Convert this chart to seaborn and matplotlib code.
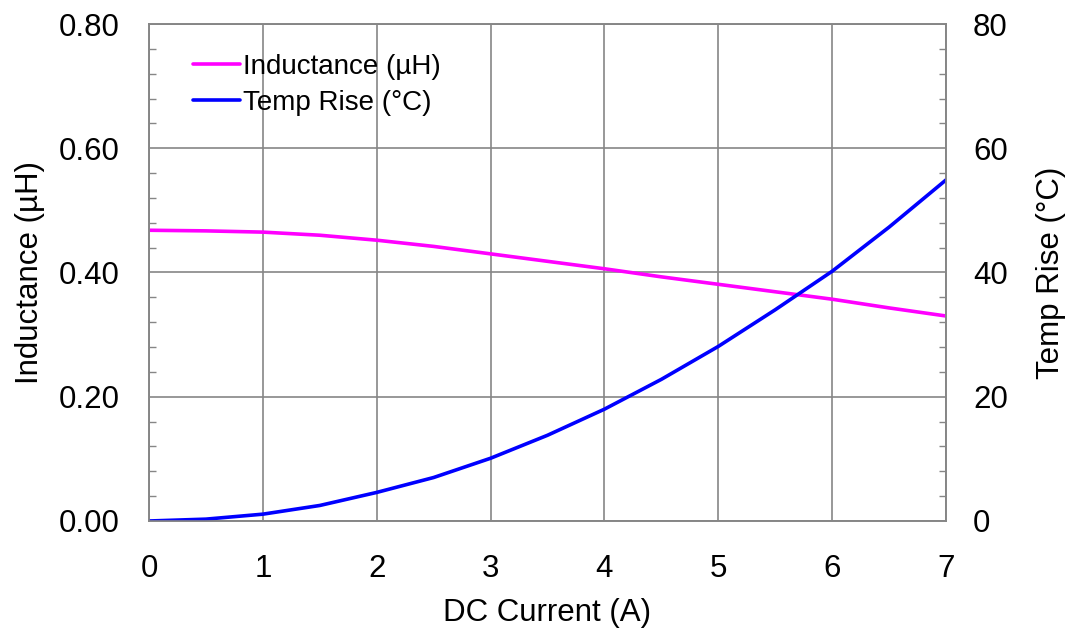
import matplotlib
matplotlib.use("Agg")
import matplotlib.pyplot as plt
import seaborn as sns
import pandas as pd
from matplotlib.ticker import MultipleLocator, FormatStrFormatter

current = [0, 0.5, 1, 1.5, 2, 2.5, 3, 3.5, 4, 4.5, 5, 5.5, 6, 6.5, 7]
inductance = [0.468, 0.467, 0.465, 0.460, 0.452, 0.442, 0.430, 0.418, 0.406,
              0.393, 0.381, 0.369, 0.357, 0.343, 0.330]
temp_rise = [0.0, 0.3, 1.1, 2.5, 4.6, 7.0, 10.1, 13.8, 18.0, 22.8, 28.1, 34.0,
             40.2, 47.3, 54.9]

df = pd.DataFrame({"current": current, "inductance": inductance, "temp": temp_rise})

sns.set_style("white")
plt.rcParams['font.family'] = ['Liberation Sans', 'DejaVu Sans']
plt.rcParams['text.color'] = 'black'
plt.rcParams['axes.labelcolor'] = 'black'
plt.rcParams['xtick.color'] = 'black'
plt.rcParams['ytick.color'] = 'black'

fig = plt.figure(figsize=(10.73, 6.37), dpi=100)
ax = fig.add_axes([149/1073, 1-521/637, (946-149)/1073, (521-24)/637])
ax2 = ax.twinx()

sns.lineplot(data=df, x="current", y="inductance", ax=ax, color="#FF00FF",
             linewidth=2.6, label="Inductance (µH)", legend=False)
sns.lineplot(data=df, x="current", y="temp", ax=ax2, color="#0000FF",
             linewidth=2.6, label="Temp Rise (°C)", legend=False)

ax.set_xlim(0, 7)
ax.set_ylim(0, 0.8)
ax2.set_ylim(0, 80)

ax.xaxis.set_major_locator(MultipleLocator(1))
ax.xaxis.set_minor_locator(MultipleLocator(0.2))
ax.yaxis.set_major_locator(MultipleLocator(0.2))
ax.yaxis.set_minor_locator(MultipleLocator(0.04))
ax.yaxis.set_major_formatter(FormatStrFormatter("%.2f"))
ax2.yaxis.set_major_locator(MultipleLocator(20))
ax2.yaxis.set_minor_locator(MultipleLocator(4))

grey = "#868686"
ax.grid(True, which="major", color=grey, linewidth=1.2)
for a in (ax, ax2):
    for s in a.spines.values():
        s.set_color(grey)
        s.set_linewidth(1.2)

fs = 22.5
ax.tick_params(axis="both", which="major", direction="in", length=0,
               labelsize=fs)
ax.tick_params(axis="x", which="major", pad=24)
ax.tick_params(axis="y", which="major", pad=21)
ax.tick_params(axis="both", which="minor", direction="in", length=5,
               color=grey, width=1)
ax2.tick_params(axis="y", which="major", direction="in", length=0,
                labelsize=fs, pad=19.5)
ax2.tick_params(axis="y", which="minor", direction="in", length=5,
                color=grey, width=1)

ax.set_xlabel("DC Current (A)", fontsize=fs, labelpad=10)
ax.set_ylabel("Inductance (µH)", fontsize=fs, labelpad=10)
ax2.set_ylabel("Temp Rise (°C)", fontsize=fs, labelpad=20)

h1, l1 = ax.get_legend_handles_labels()
h2, l2 = ax2.get_legend_handles_labels()
ax.legend(h1 + h2, l1 + l2, loc="upper left", bbox_to_anchor=(0.041, 0.962),
          borderaxespad=0, frameon=False, fontsize=20, handlelength=1.7,
          handletextpad=0.1, labelspacing=0.35)

fig.savefig("out.png", dpi=100)
